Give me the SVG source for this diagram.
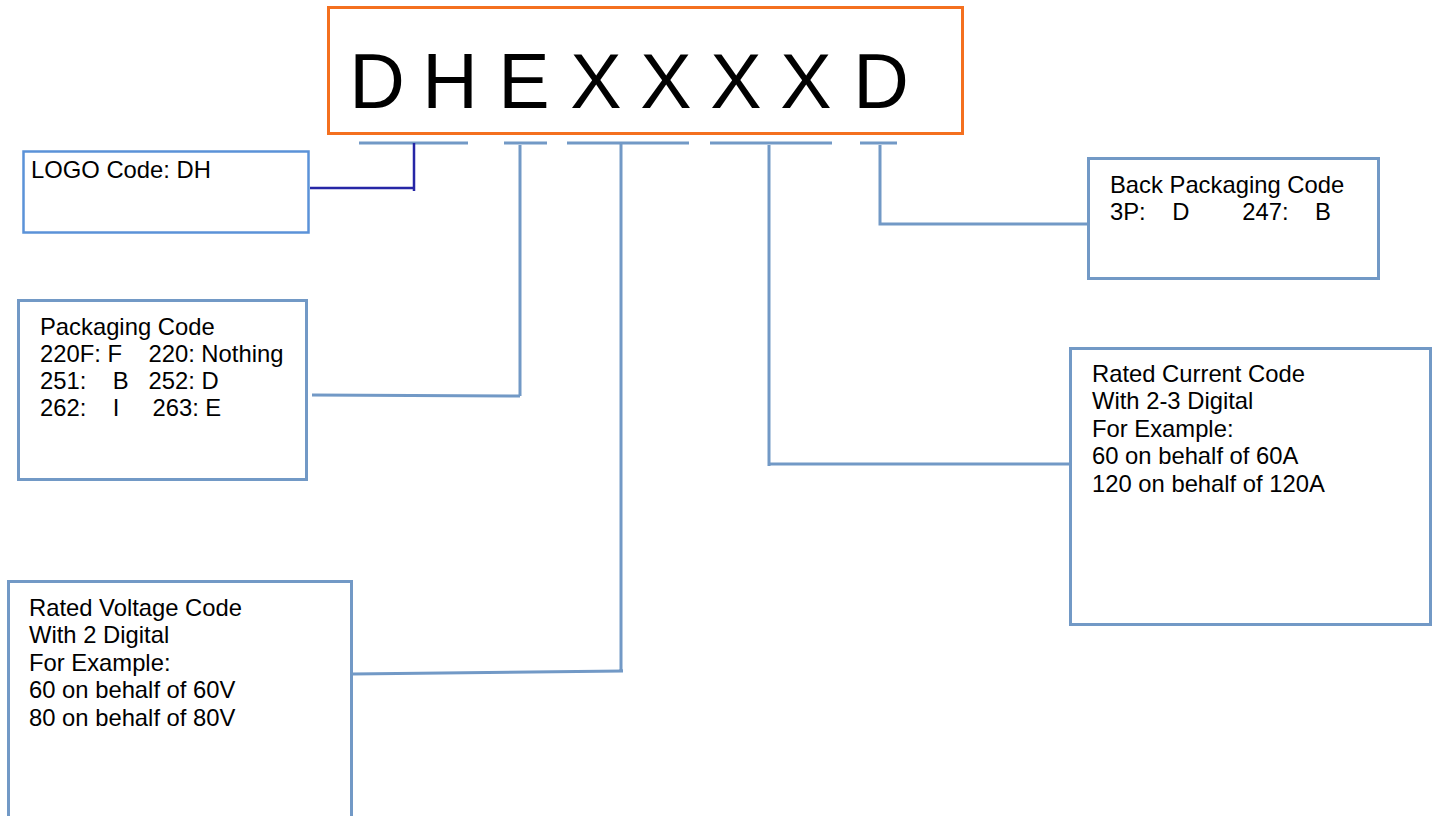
<svg xmlns="http://www.w3.org/2000/svg" width="1435" height="816" viewBox="0 0 1435 816">
<style>
.box{fill:#fff;stroke:#7299C6;stroke-width:3}
.t{font-family:"Liberation Sans",Arial,sans-serif;font-size:23.8px;fill:#000}
.big{font-family:"Liberation Sans",Arial,sans-serif;font-size:77px;fill:#000;text-anchor:middle}
.ln{fill:none;stroke:#7299C6;stroke-width:3}
</style>
<rect width="1435" height="816" fill="#fff"/>
<g id="code">
<rect x="328.5" y="7.5" width="634" height="126" fill="#fff" stroke="#F4701F" stroke-width="3"/>
<text class="big" x="377 450 524 596 666 736 806 881" y="108">DHEXXXXD</text>
</g>
<g id="connectors">
<path class="ln" d="M359 143H468M504 143H547M567 143H689M710 143H832M860 143H897"/>
<path d="M414 143V191M310 188H415" fill="none" stroke="#2626A6" stroke-width="2.5"/>
<path class="ln" d="M520 145V396M312 395L520 396"/>
<path class="ln" d="M621 143V672M352 674L623 671"/>
<path class="ln" d="M769 145V466M769 464H1070"/>
<path class="ln" d="M880 145V224H1088"/>
</g>
<g id="logo">
<rect x="23.5" y="151.5" width="285" height="81" fill="#fff" stroke="#5B92D8" stroke-width="2.5"/>
<text class="t" x="31" y="178">LOGO Code: DH</text>
</g>
<g id="packaging">
<rect class="box" x="18.5" y="300.5" width="288" height="179"/>
<text class="t" x="40" y="335">Packaging Code</text>
<text class="t" x="40" y="362" xml:space="preserve">220F: F    220: Nothing</text>
<text class="t" x="40" y="389" xml:space="preserve">251:    B   252: D</text>
<text class="t" x="40" y="416" xml:space="preserve">262:    I     263: E</text>
</g>
<g id="back">
<rect class="box" x="1088.5" y="158.5" width="290" height="120"/>
<text class="t" x="1110" y="193">Back Packaging Code</text>
<text class="t" x="1110" y="220" xml:space="preserve">3P:    D        247:    B</text>
</g>
<g id="current">
<rect class="box" x="1070.5" y="348.5" width="360" height="276"/>
<text class="t" x="1092" y="382">Rated Current Code</text>
<text class="t" x="1092" y="409">With 2-3 Digital</text>
<text class="t" x="1092" y="437">For Example:</text>
<text class="t" x="1092" y="464">60 on behalf of 60A</text>
<text class="t" x="1092" y="492">120 on behalf of 120A</text>
</g>
<g id="voltage">
<rect class="box" x="8.5" y="581.5" width="343" height="240"/>
<text class="t" x="29" y="616">Rated Voltage Code</text>
<text class="t" x="29" y="643">With 2 Digital</text>
<text class="t" x="29" y="671">For Example:</text>
<text class="t" x="29" y="698">60 on behalf of 60V</text>
<text class="t" x="29" y="726">80 on behalf of 80V</text>
</g>
</svg>
